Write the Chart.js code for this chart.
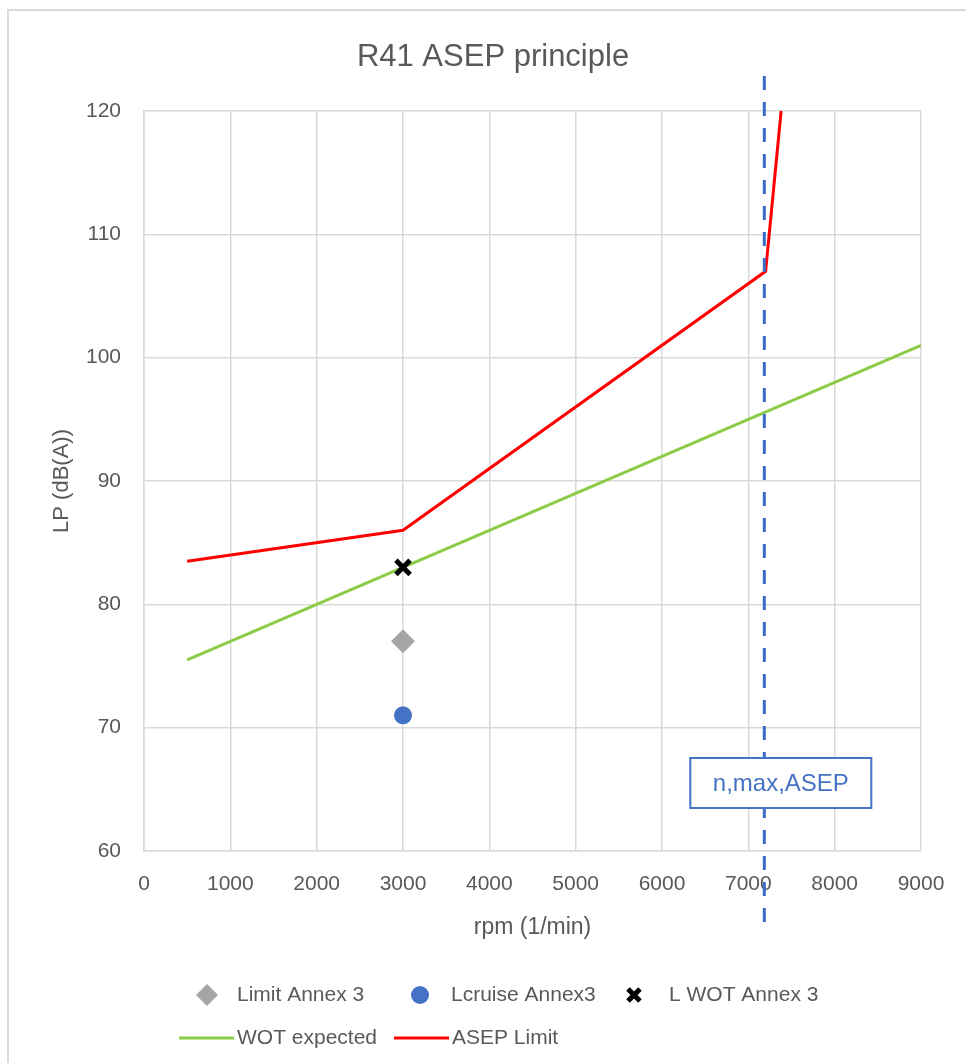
<!DOCTYPE html>
<html>
<head>
<meta charset="utf-8">
<script src="https://cdn.jsdelivr.net/npm/chart.js@4.4.1/dist/chart.umd.min.js"></script>
<style>
  html, body { margin: 0; padding: 0; background: #ffffff; }
  #wrap { position: relative; width: 966px; height: 1063px; }
  canvas { display: block; }
</style>
</head>
<body>
<div id="wrap"><canvas id="c" width="966" height="1063"></canvas></div>
<script>
// ---- Data ----
const chartTitle = "R41 ASEP principle";
const xTitle = "rpm (1/min)";
const yTitle = "LP (dB(A))";
const xTicks = [0, 1000, 2000, 3000, 4000, 5000, 6000, 7000, 8000, 9000];
const yTicks = [60, 70, 80, 90, 100, 110, 120];

const limitRpm = [3000];
const limitLp = [77];
const cruiseRpm = [3000];
const cruiseLp = [71];
const wotPointRpm = [3000];
const wotPointLp = [83];

const wotExpRpm = [500, 3000, 9000];
const wotExpLp = [75.5, 83, 101];

const asepRpm = [500, 3000, 7200, 7380];
const asepLp = [83.5, 86, 107, 120];

const nMaxAsep = 7185;
const nMaxLabel = "n,max,ASEP";

const seriesNames = ["Limit Annex 3", "Lcruise Annex3", "L WOT Annex 3", "WOT expected", "ASEP Limit"];

const zip = (xs, ys) => xs.map((x, i) => ({ x: x, y: ys[i] }));

const TXT = '#595959';
const GRID = '#D9D9D9';
const BLUE = '#4472C4';
const FONT = "'Liberation Sans', Arial, sans-serif";

// frame + background + title
const framePlugin = {
  id: 'frame',
  beforeDraw(chart) {
    const ctx = chart.ctx;
    ctx.save();
    ctx.fillStyle = '#ffffff';
    ctx.fillRect(0, 0, chart.width, chart.height);
    ctx.strokeStyle = GRID;
    ctx.lineWidth = 2;
    ctx.strokeRect(8, 10, chart.width + 20, chart.height + 20);
    ctx.fillStyle = TXT;
    ctx.font = "31px " + FONT;
    ctx.textAlign = 'center';
    ctx.textBaseline = 'middle';
    ctx.fillText(chartTitle, 493, 57);
    ctx.restore();
  }
};

// vertical dashed n,max,ASEP marker and its label box
const markerPlugin = {
  id: 'nmax',
  afterDatasetsDraw(chart) {
    const ctx = chart.ctx;
    const xs = chart.scales.x;
    const a = chart.chartArea;
    const px = xs.getPixelForValue(nMaxAsep);
    ctx.save();
    ctx.strokeStyle = '#3A6BC6';
    ctx.lineWidth = 3;
    ctx.setLineDash([14, 12]);
    ctx.beginPath();
    ctx.moveTo(px, a.top - 35);
    ctx.lineTo(px, a.bottom + 73);
    ctx.stroke();
    ctx.setLineDash([]);
    const bx = px - 74, by = a.bottom - 93, bw = 181, bh = 50;
    ctx.fillStyle = '#ffffff';
    ctx.fillRect(bx, by, bw, bh);
    ctx.strokeStyle = BLUE;
    ctx.lineWidth = 2;
    ctx.strokeRect(bx, by, bw, bh);
    ctx.fillStyle = BLUE;
    ctx.font = "24px " + FONT;
    ctx.textAlign = 'center';
    ctx.textBaseline = 'middle';
    ctx.fillText(nMaxLabel, bx + bw / 2, by + bh / 2 + 1);
    ctx.restore();
  }
};

// legend laid out like the reference (two rows)
const legendPlugin = {
  id: 'customLegend',
  afterDraw(chart) {
    const ctx = chart.ctx;
    const ds = chart.data.datasets;
    ctx.save();
    ctx.font = "21px " + FONT;
    ctx.fillStyle = TXT;
    ctx.textBaseline = 'middle';
    ctx.textAlign = 'left';
    const r1 = 995, r2 = 1038;
    // diamond
    ctx.fillStyle = ds[0].backgroundColor;
    ctx.beginPath();
    ctx.moveTo(207, r1 - 11); ctx.lineTo(218, r1); ctx.lineTo(207, r1 + 11); ctx.lineTo(196, r1);
    ctx.closePath(); ctx.fill();
    ctx.fillStyle = TXT; ctx.fillText(ds[0].label, 237, r1);
    // circle
    ctx.fillStyle = ds[1].backgroundColor;
    ctx.beginPath(); ctx.arc(420, r1, 9, 0, Math.PI * 2); ctx.fill();
    ctx.fillStyle = TXT; ctx.fillText(ds[1].label, 451, r1);
    // cross
    ctx.strokeStyle = ds[2].borderColor;
    ctx.lineWidth = 5;
    ctx.beginPath();
    ctx.moveTo(628, r1 - 6); ctx.lineTo(640, r1 + 6);
    ctx.moveTo(640, r1 - 6); ctx.lineTo(628, r1 + 6);
    ctx.stroke();
    ctx.fillStyle = TXT; ctx.fillText(ds[2].label, 669, r1);
    // lines
    ctx.lineWidth = 3;
    ctx.strokeStyle = ds[3].borderColor;
    ctx.beginPath(); ctx.moveTo(179, r2); ctx.lineTo(234, r2); ctx.stroke();
    ctx.fillStyle = TXT; ctx.fillText(ds[3].label, 237, r2);
    ctx.strokeStyle = ds[4].borderColor;
    ctx.beginPath(); ctx.moveTo(394, r2); ctx.lineTo(449, r2); ctx.stroke();
    ctx.fillStyle = TXT; ctx.fillText(ds[4].label, 452, r2);
    ctx.restore();
  }
};

new Chart(document.getElementById('c'), {
  type: 'scatter',
  data: {
    datasets: [
      { label: seriesNames[0], data: zip(limitRpm, limitLp), pointStyle: 'rectRot', pointRadius: 12,
        backgroundColor: '#A5A5A5', borderColor: '#A5A5A5', borderWidth: 0, showLine: false, order: 0 },
      { label: seriesNames[1], data: zip(cruiseRpm, cruiseLp), pointStyle: 'circle', pointRadius: 9,
        backgroundColor: BLUE, borderColor: BLUE, borderWidth: 0, showLine: false, order: 0 },
      { label: seriesNames[2], data: zip(wotPointRpm, wotPointLp), pointStyle: 'crossRot', pointRadius: 10,
        backgroundColor: '#000000', borderColor: '#000000', borderWidth: 5, showLine: false, order: 0 },
      { label: seriesNames[3], data: zip(wotExpRpm, wotExpLp), showLine: true, pointRadius: 0,
        borderColor: '#8CCB45', backgroundColor: '#8CCB45', borderWidth: 3, tension: 0, order: 1 },
      { label: seriesNames[4], data: zip(asepRpm, asepLp), showLine: true, pointRadius: 0,
        borderColor: '#FF0000', backgroundColor: '#FF0000', borderWidth: 3, tension: 0, order: 1, clip: false }
    ]
  },
  options: {
    responsive: false,
    animation: false,
    events: [],
    layout: { padding: { top: 111, right: 45, bottom: 122, left: 0 } },
    plugins: {
      legend: { display: false },
      title: { display: false },
      tooltip: { enabled: false }
    },
    scales: {
      x: {
        type: 'linear', min: xTicks[0], max: xTicks[xTicks.length - 1],
        afterBuildTicks: (s) => { s.ticks = xTicks.map(v => ({ value: v })); },
        afterFit: (s) => { s.height = 90; },
        ticks: { color: TXT, font: { family: FONT, size: 21 }, padding: 21, maxRotation: 0,
                 callback: (v) => String(v) },
        grid: { color: GRID, lineWidth: 1.5, drawTicks: false },
        border: { display: true, color: GRID, width: 1.5 },
        title: { display: true, text: xTitle, color: TXT, font: { family: FONT, size: 23 }, padding: { top: 0, bottom: 0 } }
      },
      y: {
        type: 'linear', min: yTicks[0], max: yTicks[yTicks.length - 1],
        afterBuildTicks: (s) => { s.ticks = yTicks.map(v => ({ value: v })); },
        afterFit: (s) => { s.width = 144; },
        ticks: { color: TXT, font: { family: FONT, size: 21 }, padding: 23, callback: (v) => String(v) },
        grid: { color: GRID, lineWidth: 1.5, drawTicks: false },
        border: { display: true, color: GRID, width: 1.5 },
        title: { display: true, text: yTitle, color: TXT, font: { family: FONT, size: 22 }, padding: { top: 49, bottom: 0 } }
      }
    }
  },
  plugins: [framePlugin, markerPlugin, legendPlugin]
});
</script>
</body>
</html>
